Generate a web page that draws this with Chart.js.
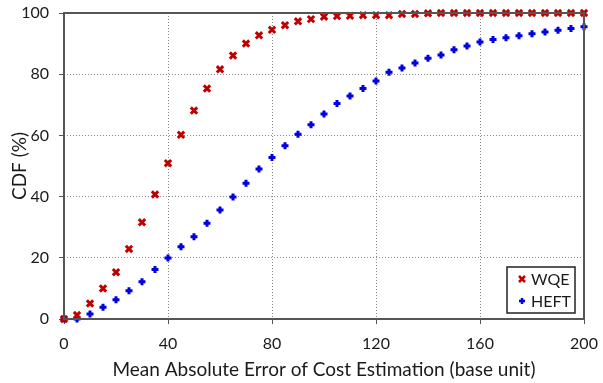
<!DOCTYPE html>
<html>
<head>
<meta charset="utf-8">
<script src="https://cdn.jsdelivr.net/npm/chart.js@4/dist/chart.umd.min.js"></script>
<style>
  html, body { margin: 0; padding: 0; background: #fff; }
  #wrap { width: 603px; height: 383px; }
</style>
</head>
<body>
<div id="wrap"><canvas id="cdfChart" width="603" height="383"></canvas></div>
<script>
// x values (base unit), every 5
const errorSteps = [0,5,10,15,20,25,30,35,40,45,50,55,60,65,70,75,80,85,90,95,100,
  105,110,115,120,125,130,135,140,145,150,155,160,165,170,175,180,185,190,195,200];
// CDF (%)
const wqeCdf = [0,1.3,5.1,10.0,15.3,22.9,31.6,40.7,50.9,60.2,68.1,75.3,81.6,86.1,90.0,92.7,94.5,96.0,97.3,98.0,98.8,
  99.0,99.1,99.3,99.3,99.3,99.7,99.7,99.9,100,100,100,100,100,100,100,100,100,100,100,100];
const heftCdf = [0,0,1.6,3.8,6.3,9.2,12.2,16.2,19.9,23.6,26.9,31.3,35.6,39.9,44.4,49.0,52.8,56.6,60.4,63.5,67.0,
  70.4,72.9,75.3,77.8,80.6,82.0,83.7,85.2,86.3,88.0,89.2,90.5,91.3,91.9,92.6,93.2,93.8,94.4,94.9,95.5];
const xTicks = [0, 40, 80, 120, 160, 200];
const yTicks = [0, 20, 40, 60, 80, 100];

const FONT = 'Lato, "Open Sans", sans-serif';
const TEXT = '#1a1a1a';

function toPoints(ys) {
    return errorSteps.map((x, i) => ({x: x, y: ys[i]}));
}

// frame round the plot and a legend box inside it, bottom right
const framePlugin = {
    id: 'frame',
    afterDraw(chart) {
        const ctx = chart.ctx;
        const a = chart.chartArea;
        ctx.save();
        ctx.strokeStyle = '#555';
        ctx.lineWidth = 2;
        ctx.strokeRect(a.left, a.top, a.right - a.left, a.bottom - a.top);

        const w = 68, h = 46;
        const bx = a.right - 9 - w, by = a.bottom - 6 - h;
        ctx.fillStyle = '#fff';
        ctx.fillRect(bx, by, w, h);
        ctx.strokeStyle = '#222';
        ctx.lineWidth = 1.5;
        ctx.strokeRect(bx, by, w, h);
        ctx.font = '16px ' + FONT;
        ctx.textBaseline = 'middle';
        chart.data.datasets.forEach((ds, i) => {
            const cx = bx + 15, cy = by + 12 + i * 22, r = 3;
            ctx.strokeStyle = ds.borderColor;
            ctx.lineWidth = 2.5;
            ctx.beginPath();
            if (ds.pointStyle === 'crossRot') {
                ctx.moveTo(cx - r, cy - r); ctx.lineTo(cx + r, cy + r);
                ctx.moveTo(cx + r, cy - r); ctx.lineTo(cx - r, cy + r);
            } else {
                ctx.moveTo(cx - r, cy); ctx.lineTo(cx + r, cy);
                ctx.moveTo(cx, cy - r); ctx.lineTo(cx, cy + r);
            }
            ctx.stroke();
            ctx.fillStyle = TEXT;
            ctx.fillText(ds.label, bx + 24, cy + 1);
        });

        // axis titles, drawn by hand
        ctx.fillStyle = TEXT;
        ctx.font = '19px ' + FONT;
        ctx.textAlign = 'center';
        ctx.fillText('Mean Absolute Error of Cost Estimation (base unit)', (a.left + a.right) / 2, 370);
        ctx.translate(20, (a.top + a.bottom) / 2);
        ctx.rotate(-Math.PI / 2);
        ctx.fillText('CDF (%)', 0, 0);
        ctx.restore();
    }
};

const chart = new Chart(document.getElementById('cdfChart').getContext('2d'), {
    type: 'scatter',
    data: {
        datasets: [{
            label: 'WQE',
            data: toPoints(wqeCdf),
            pointStyle: 'crossRot',
            pointRadius: 4.5,
            borderWidth: 3,
            borderColor: '#C00000',
            backgroundColor: '#C00000',
            clip: false
        }, {
            label: 'HEFT',
            data: toPoints(heftCdf),
            pointStyle: 'cross',
            pointRadius: 3.5,
            borderWidth: 3,
            borderColor: '#0000E0',
            backgroundColor: '#0000E0',
            clip: false
        }]
    },
    options: {
        responsive: false,
        animation: false,
        layout: {padding: {top: 13, right: 19, left: 0, bottom: 0}},
        plugins: {legend: {display: false}, tooltip: {enabled: false}},
        scales: {
            x: {
                type: 'linear', min: 0, max: 200,
                afterBuildTicks: s => { s.ticks = xTicks.map(v => ({value: v})); },
                afterFit: s => { s.height = 64; s.paddingLeft = 0; s.paddingRight = 0; },
                grid: {color: '#888', tickLength: 5, tickColor: '#555', tickBorderDash: []},
                border: {display: false, dash: [1, 2]},
                ticks: {color: TEXT, font: {family: FONT, size: 16}, padding: 10}
            },
            y: {
                type: 'linear', min: 0, max: 100,
                afterBuildTicks: s => { s.ticks = yTicks.map(v => ({value: v})); },
                afterFit: s => { s.width = 64; s.paddingTop = 0; s.paddingBottom = 0; },
                grid: {color: '#888', tickLength: 5, tickColor: '#555', tickBorderDash: []},
                border: {display: false, dash: [1, 2]},
                ticks: {color: TEXT, font: {family: FONT, size: 16}, padding: 10}
            }
        }
    },
    plugins: [framePlugin]
});
</script>
</body>
</html>
